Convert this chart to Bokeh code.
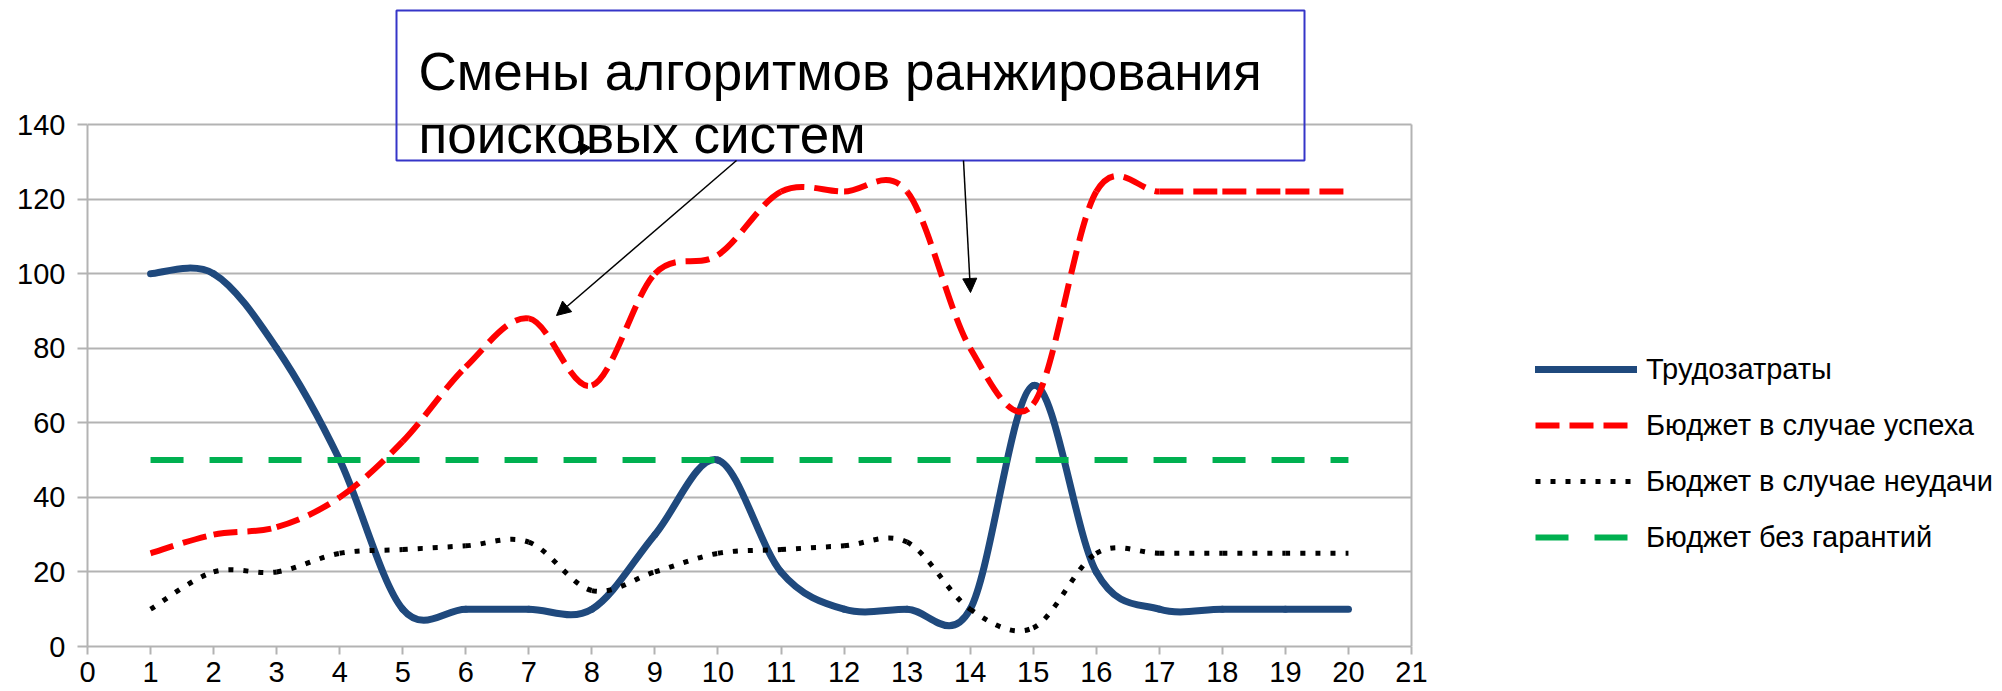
import numpy as np
from bokeh.plotting import figure
from bokeh.models import (Range1d, FixedTicker, Legend, LegendItem,
                          BoxAnnotation, Label, Arrow, NormalHead)
from bokeh.embed import file_html
from bokeh.resources import INLINE

# ---------------- data ----------------
x_values = [1, 2, 3, 4, 5, 6, 7, 8, 9, 10, 11, 12, 13, 14, 15, 16, 17, 18, 19, 20]
labour = [100, 100, 80, 50, 10, 10, 10, 10, 30, 50, 20, 10, 10, 10, 70, 20, 10, 10, 10, 10]
budget_success = [25, 30, 32, 40, 55, 75, 88, 70, 100, 105, 122, 122, 122, 80, 65, 122, 122, 122, 122, 122]
budget_failure = [10, 20, 20, 25, 26, 27, 28, 15, 20, 25, 26, 27, 28, 10, 5, 25, 25, 25, 25, 25]
budget_no_guarantee = [50, 50, 50, 50, 50, 50, 50, 50, 50, 50, 50, 50, 50, 50, 50, 50, 50, 50, 50, 50]
series_names = ["Трудозатраты", "Бюджет в случае успеха", "Бюджет в случае неудачи", "Бюджет без гарантий"]
x_ticks = [0, 1, 2, 3, 4, 5, 6, 7, 8, 9, 10, 11, 12, 13, 14, 15, 16, 17, 18, 19, 20, 21]
y_ticks = [0, 20, 40, 60, 80, 100, 120, 140]
annotation_lines = ["Смены алгоритмов ранжирования", "поисковых систем"]

# ---------------- geometry (pixels of the picture) ----------------
W, H = 2002, 691
LEFT, BOTTOM_B = 87, 45
B = H - BOTTOM_B                  # frame bottom
X21 = 1411                        # pixel of x = 21
XPU = (X21 - LEFT) / 21.0
X_END = (W - LEFT) / XPU
YPU = (B - 124) / 140.0           # 140 gridline at pixel 124
Y_END = B / YPU


def dx(X):
    return (X - LEFT) / XPU


def dy(Y):
    return (B - Y) / YPU


GRAY = "#B3B3B3"
FONT = "Liberation Sans"

p = figure(width=W, height=H, x_range=Range1d(0, X_END), y_range=Range1d(0, Y_END),
           output_backend="svg", toolbar_location=None,
           min_border_left=LEFT, min_border_right=0,
           min_border_top=0, min_border_bottom=BOTTOM_B)
p.outline_line_color = None
p.background_fill_color = "white"
p.border_fill_color = "white"

p.ygrid.ticker = FixedTicker(ticks=y_ticks)
p.ygrid.cross_bounds = (0, 21)
p.ygrid.grid_line_color = GRAY
p.ygrid.grid_line_width = 2
# right-hand border of the plot area
p.xgrid.ticker = FixedTicker(ticks=[21])
p.xgrid.cross_bounds = (0, 140)
p.xgrid.grid_line_color = GRAY
p.xgrid.grid_line_width = 2

for ax, ticks, bounds, out, standoff in ((p.yaxis[0], y_ticks, (0, 140), 10, 12),
                                         (p.xaxis[0], x_ticks, (0, 21), 8, 7)):
    ax.ticker = FixedTicker(ticks=ticks)
    ax.bounds = bounds
    ax.axis_line_color = GRAY
    ax.axis_line_width = 2
    ax.major_tick_line_color = GRAY
    ax.major_tick_line_width = 2
    ax.major_tick_out = out
    ax.major_tick_in = 0
    ax.minor_tick_line_color = None
    ax.major_label_text_font = FONT
    ax.major_label_text_font_size = "29px"
    ax.major_label_text_color = "black"
    ax.major_label_standoff = standoff


def smooth(xs, ys):
    xs = np.asarray(xs, float)
    ys = np.asarray(ys, float)
    xp = np.concatenate([[xs[0]], xs[:-1]])
    yp = np.concatenate([[ys[0]], ys[:-1]])
    xn = np.concatenate([xs[1:], [xs[-1]]])
    yn = np.concatenate([ys[1:], [ys[-1]]])
    mx = (xn - xp) / 6.0
    my = (yn - yp) / 6.0
    return dict(x0=xs[:-1], y0=ys[:-1], x1=xs[1:], y1=ys[1:],
                cx0=xs[:-1] + mx[:-1], cy0=ys[:-1] + my[:-1],
                cx1=xs[1:] - mx[1:], cy1=ys[1:] - my[1:])


styles = [
    dict(line_color="#1F497D", line_width=7, line_cap="round"),
    dict(line_color="#FF0000", line_width=6, line_dash="24 10"),
    dict(line_color="#000000", line_width=5, line_dash="5 10"),
]
renderers = []
for ys, st in zip([labour, budget_success, budget_failure], styles):
    r = p.bezier(source=smooth(x_values, ys), x0="x0", y0="y0", x1="x1", y1="y1",
                 cx0="cx0", cy0="cy0", cx1="cx1", cy1="cy1", **st)
    renderers.append(r)
g = p.line(x_values, budget_no_guarantee, line_color="#00B050", line_width=6, line_dash="33 26")
renderers.append(g)

legend = Legend(items=[LegendItem(label=n, renderers=[r]) for n, r in zip(series_names, renderers)],
                location=(1535 - LEFT, B - 557), orientation="vertical",
                glyph_width=102, glyph_height=40, spacing=16, label_standoff=9,
                padding=0, margin=0, border_line_alpha=0, background_fill_alpha=0,
                label_text_font=FONT, label_text_font_size="29px", label_text_color="black")
p.add_layout(legend)

# annotation box with callouts
p.add_layout(BoxAnnotation(left=dx(396), right=dx(1304), top=dy(10), bottom=dy(160),
                           fill_alpha=0, line_color="#3535C8", line_width=2, line_alpha=1))
for txt, yb in zip(annotation_lines, (71, 134)):
    p.add_layout(Label(x=dx(418), y=dy(yb), text=txt, text_font=FONT, text_font_size="53px",
                       text_color="black", text_baseline="alphabetic", text_align="left"))

for (xs_, ys_, xe_, ye_) in ((736, 160, 556, 315), (963, 160, 970, 292)):
    p.add_layout(Arrow(x_start=dx(xs_), y_start=dy(ys_), x_end=dx(xe_), y_end=dy(ye_),
                       line_color="black", line_width=1.5,
                       end=NormalHead(size=14, fill_color="black", line_color="black", line_width=1)))
p.add_layout(Arrow(x_start=dx(589), y_start=dy(156), x_end=dx(578), y_end=dy(141),
                   line_alpha=0, end=NormalHead(size=12, fill_color="black", line_color="black", line_width=1)))

open("out.html", "w").write(file_html(p, INLINE))
